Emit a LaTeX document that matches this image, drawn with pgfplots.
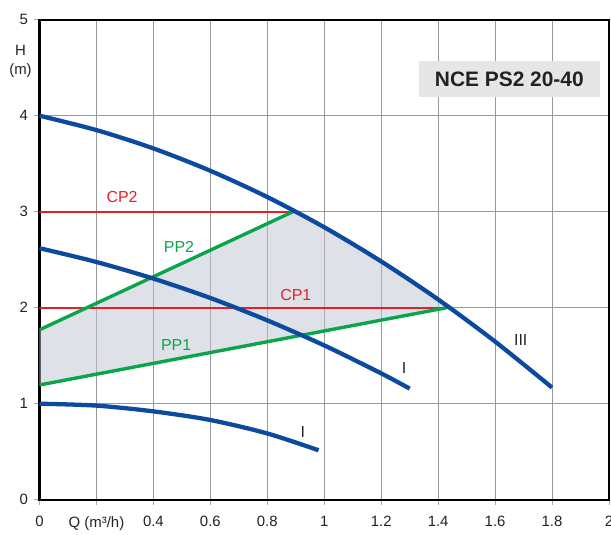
\documentclass[border=0pt]{standalone}
\usepackage{pgfplots}
\pgfplotsset{compat=1.18}
\usepackage{fontspec}
\setmainfont{Liberation Sans}

\definecolor{pumpblue}{HTML}{0B4A9E}
\definecolor{ppgreen}{HTML}{0AA54B}
\definecolor{cpred}{HTML}{EC1C24}
\definecolor{zonefill}{HTML}{BDC3CF}
\definecolor{boxfill}{HTML}{E6E6E8}
\definecolor{tickblue}{HTML}{8FB4CC}
\definecolor{labelgray}{HTML}{222222}

\begin{document}
\begin{tikzpicture}
\begin{axis}[
    scale only axis,
    width=569.5bp, height=480bp,
    xmin=0, xmax=2, ymin=0, ymax=5,
    xtick={0,0.2,0.4,0.6,0.8,1,1.2,1.4,1.6,1.8,2},
    xticklabels={0,Q (m³/h),0.4,0.6,0.8,1,1.2,1.4,1.6,1.8,2},
    ytick={0,1,2,3,4,5},
    tick pos=left,
    tick align=outside,
    major tick length=5bp,
    tick style={color=tickblue, line width=0.6pt},
    grid=major,
    grid style={color=gray!80, line width=0.7pt},
    axis line style={black, line width=2.2pt},
    tick label style={font=\fontsize{15}{17}\selectfont, text=labelgray},
    /pgf/number format/assume math mode=true,
    xticklabel style={yshift=-8bp},
    yticklabel style={xshift=-3bp},
    ylabel={H\\(m)},
    every axis y label/.style={at={(rel axis cs:0,0.914)}, xshift=-19bp,
        anchor=center, align=center, text=labelgray,
        font=\fontsize{15}{19}\selectfont},
]
% operating zone between PP1, PP2 and the max curve
\addplot[fill=zonefill, fill opacity=0.5, draw=none] coordinates {
    (0,1.195) (1.43,2.0) (1.3,2.29) (1.2,2.48) (1.1,2.665) (1.0,2.84) (0.89,3.0) (0,1.77)
};

% constant pressure CP2 and CP1
\addplot[draw=cpred, line width=2pt, sharp plot] table {
x y
0 3.0
0.445 3.0
0.89 3.0
};
\addplot[draw=cpred, line width=2pt, sharp plot] table {
x y
0 2.0
0.715 2.0
1.43 2.0
};

% proportional pressure
\addplot[ppgreen, line width=3.4pt] coordinates {(0,1.77) (0.89,3.0)};
\addplot[ppgreen, line width=3.4pt] coordinates {(0,1.195) (1.43,2.0)};

% speed curves
\addplot[pumpblue, line width=4.3pt, smooth] coordinates {
    (0,4.0) (0.2,3.850) (0.4,3.659) (0.6,3.426) (0.8,3.153) (1.0,2.838)
    (1.2,2.482) (1.4,2.086) (1.6,1.647) (1.8,1.168)
};
\addplot[pumpblue, line width=4.3pt, smooth] coordinates {
    (0,2.620) (0.2,2.476) (0.4,2.303) (0.6,2.101) (0.8,1.868) (1.0,1.607) (1.2,1.316) (1.3,1.157)
};
\addplot[pumpblue, line width=4.3pt, smooth] coordinates {
    (0,1.0) (0.2,0.98) (0.4,0.92) (0.6,0.83) (0.8,0.69) (0.98,0.515)
};

\node[cpred, font=\fontsize{16}{18}\selectfont] at (axis cs:0.29,3.15) {CP2};
\node[cpred, font=\fontsize{16}{18}\selectfont] at (axis cs:0.90,2.13) {CP1};
\node[ppgreen, font=\fontsize{16}{18}\selectfont] at (axis cs:0.49,2.63) {PP2};
\node[ppgreen, font=\fontsize{16}{18}\selectfont] at (axis cs:0.48,1.61) {PP1};
\node[labelgray, font=\fontsize{16}{18}\selectfont] at (axis cs:1.28,1.37) {I};
\node[labelgray, font=\fontsize{16}{18}\selectfont] at (axis cs:0.925,0.71) {I};
\node[labelgray, font=\fontsize{16}{18}\selectfont] at (axis cs:1.69,1.66) {III};

\node[fill=boxfill, text=labelgray, font=\bfseries\fontsize{21}{23}\selectfont,
      minimum width=181bp, minimum height=36bp, inner sep=0pt]
      at (axis cs:1.65,4.38) {NCE PS2 20-40};
\end{axis}
\pgfresetboundingbox
\path[use as bounding box] ([xshift=-39.5bp,yshift=-35.3bp]current axis.south west)
    rectangle ([xshift=2bp,yshift=19.7bp]current axis.north east);
\end{tikzpicture}
\end{document}
